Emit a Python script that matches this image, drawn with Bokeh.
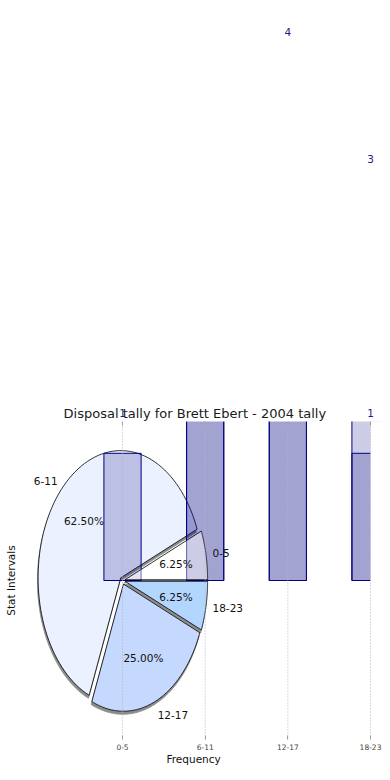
import numpy as np
from bokeh.plotting import figure
from bokeh.models import ColumnDataSource, LabelSet, Label, FixedTicker, Range1d, Title
from bokeh.core.properties import value
from bokeh.embed import file_html
from bokeh.resources import INLINE

# ---- data ----
categories = ["0-5", "6-11", "12-17", "18-23"]
frequency = [1, 10, 4, 1]
second_values = [0, 10, 4, 3]
chart_title = "Disposal tally for Brett Ebert - 2004 tally"
x_label = "Frequency"
y_label = "Stat Intervals"

pie_colors = ["#ffffff", "#ebf1fe", "#c5d8fe", "#b3d6fe"]
FONT = "DejaVu Sans"

xs = list(range(len(categories)))

# visible limits of the original chart area (everything outside is masked)
chart_xlim = (-1.25, 3.0)
chart_ylim = (-1.25, 1.25)
# full canvas ranges (labels above the chart area must stay inside the frame)
X0, X1 = -1.476, 3.145
Y0, Y1 = -1.25, 4.56
LABEL_OFFSET_PX = 40
PX_PER_Y = 739 / (Y1 - Y0)

p = figure(frame_width=382, frame_height=739, output_backend="svg", toolbar_location=None,
           x_range=Range1d(X0, X1), y_range=Range1d(Y0, Y1),
           y_axis_location=None, min_border=0, min_border_bottom=34, title=None)
p.outline_line_color = None
p.background_fill_color = "white"
p.xgrid.visible = False
p.ygrid.visible = False

# x axis
p.xaxis.ticker = FixedTicker(ticks=xs)
p.xaxis.major_label_overrides = {i: c for i, c in enumerate(categories)}
p.xaxis.axis_line_color = None
p.xaxis.major_tick_in = 4
p.xaxis.major_tick_out = 0
p.xaxis.major_tick_line_color = "#a0a0a0"
p.xaxis.minor_tick_line_color = None
p.xaxis.major_label_text_font = FONT
p.xaxis.major_label_text_font_size = "7.5px"
p.xaxis.major_label_standoff = 4

p.add_layout(Title(text=x_label, align="left", offset=166, standoff=0, vertical_align="top",
                   text_font=FONT, text_font_size="10.5px", text_font_style="normal",
                   text_color="#111111"), "below")

# ---- pie (same data space, centred on the first category) ----
total = float(sum(frequency))
fracs = [f / total for f in frequency]
explode = 0.03
sh_dx, sh_dy = -0.008, -0.024
slices = []
start = 0.0
for i, fr in enumerate(fracs):
    a0 = start
    a1 = start + 2 * np.pi * fr
    mid = (a0 + a1) / 2
    cx, cy = xs[0] + explode * np.cos(mid), explode * np.sin(mid)
    th = np.linspace(a0, a1, 90)
    px = [cx] + list(cx + np.cos(th))
    py = [cy] + list(cy + np.sin(th))
    slices.append((px, py, mid, cx, cy))
    start = a1

# shadows
p.patches(xs=[[x + sh_dx for x in s[0]] for s in slices],
          ys=[[y + sh_dy for y in s[1]] for s in slices],
          fill_color="#8c8c8c", line_color="#8c8c8c", line_width=0.8)
under = [1, 2, 3]
p.patches(xs=[slices[i][0] for i in under], ys=[slices[i][1] for i in under],
          fill_color=[pie_colors[i] for i in under], line_color="black", line_width=0.8)
# opaque base of the first slice
p.patches(xs=[slices[0][0]], ys=[slices[0][1]], fill_color=pie_colors[0], line_color=None)

# ---- bars (tops beyond the chart area are hidden under the mask) ----
bar_cap = (chart_ylim[1] + Y1) / 2
p.vbar(x=xs, top=np.minimum(frequency, bar_cap), width=0.45, bottom=0, fill_color="navy",
       fill_alpha=0.2, line_color="navy", line_width=1)
p.vbar(x=xs, top=np.minimum(second_values, bar_cap), width=0.45, bottom=0, fill_color="navy",
       fill_alpha=0.2, line_color="navy", line_width=1)

# first slice drawn over the bars
p.patches(xs=[slices[0][0]], ys=[slices[0][1]], fill_color=pie_colors[0], fill_alpha=0.45,
          line_color="black", line_width=0.8)

# masks outside the original chart area
p.quad(left=[X0, chart_xlim[1]], right=[X1, X1], bottom=[chart_ylim[1], Y0],
       top=[Y1, chart_ylim[1]], fill_color="white", line_color=None)

# dotted grid lines and top ticks
n = len(xs)
p.segment(x0=xs, y0=[chart_ylim[0]] * n, x1=xs, y1=[chart_ylim[1]] * n,
          line_color="#b4b4b4", line_dash="1 2", line_width=1)
p.segment(x0=xs, y0=[chart_ylim[1]] * n, x1=xs, y1=[chart_ylim[1] - 0.032] * n,
          line_color="#a0a0a0", line_width=1)

# pie labels
pct_x, pct_y, pct_t = [], [], []
cat_x, cat_y, cat_align, cat_base = [], [], [], []
for i, s in enumerate(slices):
    mid, cx, cy = s[2], s[3], s[4]
    pct_x.append(cx + 0.63 * np.cos(mid))
    pct_y.append(cy + 0.63 * np.sin(mid))
    pct_t.append("%.2f%%" % (fracs[i] * 100))
    cat_x.append(cx + 1.08 * np.cos(mid))
    cat_y.append(cy + 1.08 * np.sin(mid))
    cat_align.append("left" if np.cos(mid) >= 0 else "right")
    cat_base.append("top" if np.sin(mid) < -0.8 else "middle")
p.text(x=pct_x, y=pct_y, text=pct_t, text_font=value(FONT), text_font_size="10.5px",
       text_align="center", text_baseline="middle", text_color="#111111")
cat_src = ColumnDataSource(dict(x=cat_x, y=cat_y, t=categories, a=cat_align, b=cat_base))
p.text(x="x", y="y", text="t", source=cat_src, text_font=value(FONT), text_font_size="10.5px",
       text_align="a", text_baseline="b", text_color="#111111")

# chart title and y label
p.add_layout(Label(x=sum(chart_xlim) / 2, y=chart_ylim[1], y_offset=8, text=chart_title,
                   text_align="center", text_baseline="middle", text_font=FONT,
                   text_font_size="13px", text_color="#1a1a1a"))
p.add_layout(Label(x=X0, y=0, x_offset=10, angle=np.pi / 2, text=y_label,
                   text_align="center", text_baseline="middle", text_font=FONT,
                   text_font_size="10.5px", text_color="#111111"))

# value labels on bars (only those that fall on the canvas)
lx, ly, lt = [], [], []
seen = set()
for series in (frequency, second_values):
    for i, v in enumerate(series):
        if v <= 0 or (i, v) in seen:
            continue
        if v + (LABEL_OFFSET_PX + 6) / PX_PER_Y > Y1:
            continue
        seen.add((i, v))
        lx.append(xs[i]); ly.append(v); lt.append(str(v))
lab_src = ColumnDataSource(dict(x=lx, y=ly, t=lt))
p.add_layout(LabelSet(x="x", y="y", text="t", source=lab_src, y_offset=LABEL_OFFSET_PX,
                      text_align="center", text_baseline="middle",
                      text_font=value(FONT), text_font_size="10.5px", text_color="#1c1c8c"))

open("out.html", "w").write(file_html(p, INLINE))
